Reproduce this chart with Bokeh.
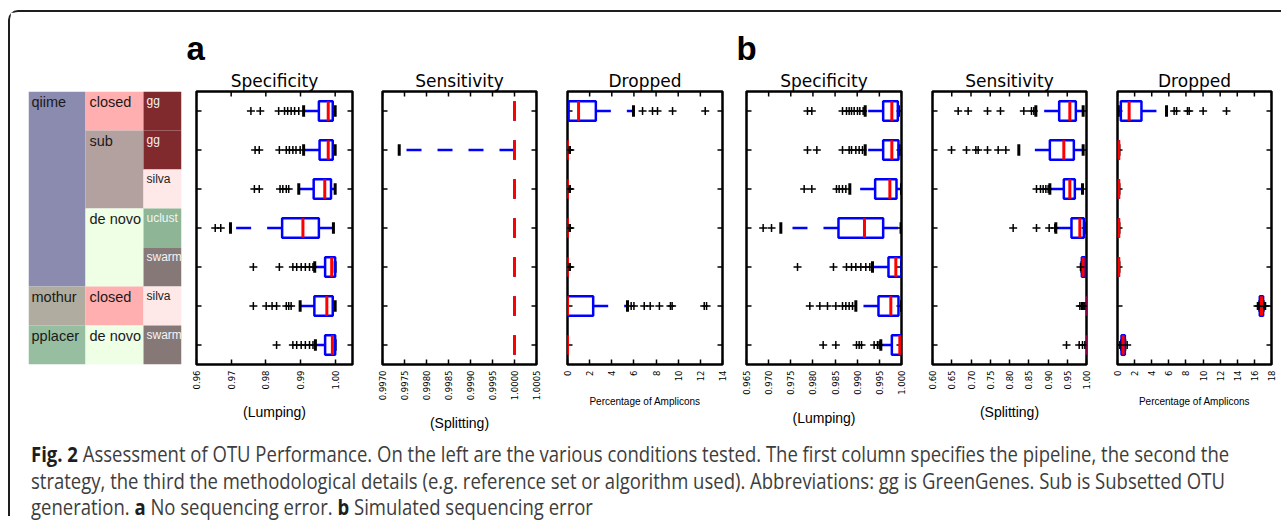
import math
from bokeh.plotting import figure
from bokeh.models import (Range1d, FixedTicker, LinearAxis, PrintfTickFormatter,
                          Title, Div, ColumnDataSource)
from bokeh.layouts import row, column
from bokeh.embed import file_html
from bokeh.resources import INLINE
from bokeh.core.properties import value

# ---------------------------------------------------------------- data
ROWS = [1, 2, 3, 4, 5, 6, 7]

pipelines = ["qiime", "mothur", "pplacer"]
pipeline_span = [5, 1, 1]
strategies = ["closed", "sub", "de novo", "closed", "de novo"]
strategy_span = [1, 2, 2, 1, 1]
details = ["gg", "gg", "silva", "uclust", "swarm", "silva", "swarm"]

# (a) Specificity
spec_a_ticks = [0.96, 0.97, 0.98, 0.99, 1.00]
spec_a_q1 = [0.9953, 0.9955, 0.9938, 0.9847, 0.9971, 0.9940, 0.9971]
spec_a_med = [0.9980, 0.9980, 0.9970, 0.9907, 0.9990, 0.9976, 0.9992]
spec_a_q3 = [0.9993, 0.9993, 0.9988, 0.9953, 1.0000, 0.9993, 1.0000]
spec_a_lo = [0.9909, 0.9909, 0.9895, 0.9698, 0.9941, 0.9899, 0.9943]
spec_a_hi = [1.0000, 1.0000, 1.0000, 0.9995, 1.0000, 1.0000, 1.0000]
spec_a_fliers = [
    [0.9757, 0.9784, 0.9837, 0.9854, 0.9863, 0.9873, 0.9883, 0.9895],
    [0.9769, 0.9781, 0.9839, 0.9859, 0.9868, 0.9878, 0.9887, 0.9899],
    [0.9767, 0.9781, 0.9841, 0.9849, 0.9859, 0.9866],
    [0.9654, 0.9670],
    [0.9764, 0.9839, 0.9878, 0.9889, 0.9902, 0.9914, 0.9926, 0.9936],
    [0.9764, 0.9801, 0.9818, 0.9831, 0.9859, 0.9866, 0.9873],
    [0.9831, 0.9878, 0.9889, 0.9902, 0.9914, 0.9926, 0.9936],
]

# (a) Sensitivity
sens_a_ticks = [0.9970, 0.9975, 0.9980, 0.9985, 0.9990, 0.9995, 1.0000, 1.0005]
sens_a_q1 = [1.0, 1.0, 1.0, 1.0, 1.0, 1.0, 1.0]
sens_a_med = [1.0, 1.0, 1.0, 1.0, 1.0, 1.0, 1.0]
sens_a_q3 = [1.0, 1.0, 1.0, 1.0, 1.0, 1.0, 1.0]
sens_a_lo = [1.0, 0.99738, 1.0, 1.0, 1.0, 1.0, 1.0]
sens_a_hi = [1.0, 1.0, 1.0, 1.0, 1.0, 1.0, 1.0]
sens_a_fliers = [[], [], [], [], [], [], []]

# (a) Dropped
drop_a_ticks = [0, 2, 4, 6, 8, 10, 12, 14]
drop_a_q1 = [0.1, 0.0, 0.0, 0.0, 0.0, 0.0, 0.0]
drop_a_med = [1.0, 0.0, 0.0, 0.0, 0.0, 0.0, 0.0]
drop_a_q3 = [2.56, 0.0, 0.0, 0.0, 0.0, 2.32, 0.0]
drop_a_lo = [0.0, 0.0, 0.0, 0.0, 0.0, 0.0, 0.0]
drop_a_hi = [5.96, 0.0, 0.0, 0.0, 0.0, 5.42, 0.0]
drop_a_fliers = [
    [6.78, 7.68, 8.13, 9.49, 12.44],
    [0.15, 0.25],
    [0.15, 0.25],
    [0.15, 0.25],
    [0.15, 0.25],
    [5.75, 6.0, 6.93, 7.47, 8.3, 9.3, 9.45, 12.35, 12.56],
    [],
]

# (b) Specificity
spec_b_ticks = [0.965, 0.970, 0.975, 0.980, 0.985, 0.990, 0.995, 1.000]
spec_b_q1 = [0.99586, 0.99586, 0.99405, 0.98577, 0.99706, 0.99480, 0.99782]
spec_b_med = [0.99782, 0.99782, 0.99737, 0.99164, 0.99872, 0.99759, 0.99962]
spec_b_q3 = [0.99917, 0.99932, 0.99887, 0.99586, 1.0, 0.99932, 1.0]
spec_b_lo = [0.99180, 0.99180, 0.98833, 0.97275, 0.99345, 0.98969, 0.99533]
spec_b_hi = [0.99932, 0.99947, 1.0, 0.9999, 1.0, 1.0, 1.0]
spec_b_fliers = [
    [0.97877, 0.97975, 0.98668, 0.98758, 0.98818, 0.98871, 0.98931, 0.99006, 0.99059, 0.99134],
    [0.97877, 0.98088, 0.98668, 0.98818, 0.98871, 0.98969, 0.99044, 0.99119],
    [0.97802, 0.97975, 0.98532, 0.98592, 0.98668, 0.98743],
    [0.96876, 0.97065],
    [0.97652, 0.98464, 0.98758, 0.98871, 0.98969, 0.99082, 0.99194, 0.99285],
    [0.97930, 0.98156, 0.98329, 0.98517, 0.98668, 0.98743, 0.98818, 0.98894],
    [0.98231, 0.98517, 0.98984, 0.99044, 0.99097, 0.99382, 0.99458, 0.99495],
]

# (b) Sensitivity
sens_b_ticks = [0.60, 0.65, 0.70, 0.75, 0.80, 0.85, 0.90, 0.95, 1.00]
sens_b_q1 = [0.9290, 0.9048, 0.9411, 0.9610, 0.9879, 1.0, 1.0]
sens_b_med = [0.9567, 0.9411, 0.9567, 0.9827, 0.9913, 1.0, 1.0]
sens_b_q3 = [0.9723, 0.9671, 0.9697, 0.9931, 0.9965, 1.0, 1.0]
sens_b_lo = [0.8684, 0.8242, 0.9048, 0.9203, 0.9879, 1.0, 1.0]
sens_b_hi = [0.9913, 0.9913, 0.9896, 0.9974, 0.9965, 1.0, 1.0]
sens_b_fliers = [
    [0.6667, 0.6926, 0.7429, 0.7766, 0.8372, 0.8571, 0.8632],
    [0.6494, 0.6883, 0.7126, 0.7186, 0.7429, 0.7706, 0.7905],
    [0.8701, 0.8805, 0.8874, 0.8944, 0.9004],
    [0.8095, 0.8701, 0.9030, 0.9177],
    [0.9844],
    [0.9827, 0.9870, 0.9900, 0.9930, 0.9957],
    [0.9481, 0.9810, 0.9896, 0.9957],
]

# (b) Dropped
drop_b_ticks = [0, 2, 4, 6, 8, 10, 12, 14, 16, 18]
drop_b_q1 = [0.39, 0.15, 0.15, 0.15, 0.15, 16.63, 0.47]
drop_b_med = [1.36, 0.15, 0.15, 0.15, 0.15, 16.83, 0.66]
drop_b_q3 = [2.80, 0.15, 0.15, 0.15, 0.15, 17.02, 0.86]
drop_b_lo = [0.10, 0.15, 0.15, 0.15, 0.15, 16.63, 0.47]
drop_b_hi = [5.73, 0.15, 0.15, 0.15, 0.15, 17.02, 0.86]
drop_b_fliers = [
    [6.62, 6.90, 8.18, 8.38, 10.01, 12.74],
    [], [], [], [],
    [16.36, 16.52, 17.14, 17.30],
    [0.27, 1.13],
]

caption_bold = "Fig. 2"
caption_line1 = (" Assessment of OTU Performance. On the left are the various conditions tested. "
                 "The first column specifies the pipeline, the second the")
caption_line2 = ("strategy, the third the methodological details (e.g. reference set or algorithm "
                 "used). Abbreviations: gg is GreenGenes. Sub is Subsetted OTU")

# ---------------------------------------------------------------- style
BLUE = "#0000ff"
RED = "#ff0000"
FIG_H = 424
FRAME_TOP = 76
FRAME_H = 279

pipeline_colors = ["#8b8bb0", "#b0ada0", "#97bea0"]
strategy_colors = {"closed": "#ffafaf", "sub": "#b3a19f", "de novo": "#eeffe5"}
detail_colors = {"gg": "#802a2e", "silva": "#ffe8e8", "uclust": "#8db596", "swarm": "#877878"}
detail_text_colors = {"gg": "#f4f4f4", "silva": "#222222", "uclust": "#f4f4f4", "swarm": "#f4f4f4"}


def make_panel(title, xr, ticks, fmt, xlabel, xlabel_size, q1, med, q3, lo, hi, fliers,
               width, bl, br, letter=None):
    p = figure(width=width, height=FIG_H, x_range=Range1d(*xr), y_range=Range1d(7.5, 0.5),
               x_axis_type=None, y_axis_type=None, output_backend="svg", toolbar_location=None,
               min_border_left=bl, min_border_right=br, min_border_top=FRAME_TOP,
               min_border_bottom=FIG_H - FRAME_TOP - FRAME_H)
    p.outline_line_color = "black"
    p.outline_line_width = 2.5
    p.outline_line_alpha = 1.0
    p.background_fill_color = "white"
    p.border_fill_color = "white"

    xb = LinearAxis(ticker=FixedTicker(ticks=ticks), axis_line_color=None,
                    major_tick_in=5, major_tick_out=0, major_tick_line_color="black",
                    major_tick_line_width=1.5, minor_tick_line_color=None)
    xb.formatter = PrintfTickFormatter(format=fmt)
    xb.major_label_orientation = math.pi / 2
    xb.major_label_text_font = "DejaVu Sans"
    xb.major_label_text_font_size = "8.5px"
    xb.major_label_text_color = "black"
    xb.major_label_standoff = 6
    xb.axis_label = xlabel
    xb.axis_label_text_font = "Liberation Sans"
    xb.axis_label_text_font_size = xlabel_size
    xb.axis_label_text_font_style = "normal"
    xb.axis_label_text_color = "black"
    xb.axis_label_standoff = 12
    p.add_layout(xb, "below")

    p.add_layout(Title(text=title, align="center", text_font="DejaVu Sans",
                       text_font_size="17px", text_font_style="normal",
                       text_color="black", standoff=1), "above")
    if letter:
        p.add_layout(Title(text=letter, align="left", offset=-10, text_font="Liberation Sans",
                           text_font_size="33px", text_font_style="bold",
                           text_color="black", standoff=4), "above")

    # inward ticks on the other three sides of the frame
    dy = 7.0 / FRAME_H
    dx = (xr[1] - xr[0]) / (width - bl - br)
    tick = dict(line_color="black", line_width=1.5)
    p.segment(x0=ticks, y0=[0.5] * len(ticks), x1=ticks, y1=[0.5 + 5 * dy] * len(ticks), **tick)
    p.segment(x0=[xr[0]] * 7, y0=ROWS, x1=[xr[0] + 5 * dx] * 7, y1=ROWS, **tick)
    p.segment(x0=[xr[1] - 5 * dx] * 7, y0=ROWS, x1=[xr[1]] * 7, y1=ROWS, **tick)

    src = ColumnDataSource(dict(
        y=ROWS, q1=q1, med=med, q3=q3, lo=lo, hi=hi,
        yb0=[r - 0.25 for r in ROWS], yb1=[r + 0.25 for r in ROWS],
        yc0=[r - 0.15 for r in ROWS], yc1=[r + 0.15 for r in ROWS]))
    p.segment(x0="q1", y0="y", x1="lo", y1="y", source=src, line_color=BLUE,
              line_width=2.5, line_dash="15 16")
    p.segment(x0="q3", y0="y", x1="hi", y1="y", source=src, line_color=BLUE,
              line_width=2.5, line_dash="15 16")
    p.segment(x0="lo", y0="yc0", x1="lo", y1="yc1", source=src, line_color="black", line_width=3)
    p.segment(x0="hi", y0="yc0", x1="hi", y1="yc1", source=src, line_color="black", line_width=3)
    p.quad(left="q1", right="q3", top="yb0", bottom="yb1", source=src, fill_color=None,
           line_color=BLUE, line_width=2.5)
    p.segment(x0="med", y0="yb0", x1="med", y1="yb1", source=src, line_color=RED, line_width=3)

    fx, fy = [], []
    for r, lst in zip(ROWS, fliers):
        for v in lst:
            fx.append(v)
            fy.append(r)
    p.scatter(fx, fy, marker="cross", size=8, line_color="black", line_width=1.5)
    return p


# ---------------------------------------------------------------- conditions table
T_W, T_BL, T_BR, T_TOP, T_H = 174, 18, 3, 79, 273
COL_X = [0, 57, 115, 153]
t = figure(width=T_W, height=FIG_H, x_range=Range1d(0, 153), y_range=Range1d(7, 0),
           x_axis_type=None, y_axis_type=None, output_backend="svg", toolbar_location=None,
           min_border_left=T_BL, min_border_right=T_BR, min_border_top=T_TOP,
           min_border_bottom=FIG_H - T_TOP - T_H)
t.outline_line_color = None
t.background_fill_color = "white"
t.border_fill_color = "white"
ty = 7.0 / T_H


def blocks(spans):
    tops, bots, acc = [], [], 0
    for s in spans:
        tops.append(acc)
        acc += s
        bots.append(acc)
    return tops, bots


pt, pb = blocks(pipeline_span)
t.quad(left=COL_X[0], right=COL_X[1], top=pt, bottom=pb, fill_color=pipeline_colors, line_color=None)
t.text(x=[COL_X[0] + 3] * len(pipelines), y=[v + 2 * ty for v in pt], text=pipelines,
       text_font=value("Liberation Sans"), text_font_size="14.5px", text_color="#1a1a1a",
       text_baseline="top", text_align="left")

st, sb = blocks(strategy_span)
t.quad(left=COL_X[1], right=COL_X[2], top=st, bottom=sb,
       fill_color=[strategy_colors[s] for s in strategies], line_color=None)
t.text(x=[COL_X[1] + 4] * len(strategies), y=[v + 2 * ty for v in st], text=strategies,
       text_font=value("Liberation Sans"), text_font_size="14.5px", text_color="#1a1a1a",
       text_baseline="top", text_align="left")

dt, db = blocks([1] * len(details))
t.quad(left=COL_X[2], right=COL_X[3], top=dt, bottom=db,
       fill_color=[detail_colors[d] for d in details], line_color=None)
t.text(x=[COL_X[2] + 3] * len(details), y=[v + 2 * ty for v in dt], text=details,
       text_font=value("Liberation Sans"), text_font_size="12px",
       text_color=[detail_text_colors[d] for d in details],
       text_baseline="top", text_align="left")

# ---------------------------------------------------------------- panels
p1 = make_panel("Specificity", (0.96, 1.005), spec_a_ticks, "%.2f", "(Lumping)", "14px",
                spec_a_q1, spec_a_med, spec_a_q3, spec_a_lo, spec_a_hi, spec_a_fliers,
                183, 12, 15, letter="a")
p2 = make_panel("Sensitivity", (0.9970, 1.0005), sens_a_ticks, "%.4f", "(Splitting)", "14px",
                sens_a_q1, sens_a_med, sens_a_q3, sens_a_lo, sens_a_hi, sens_a_fliers,
                185, 15, 16)
p3 = make_panel("Dropped", (0, 14), drop_a_ticks, "%d", "Percentage of Amplicons", "10px",
                drop_a_q1, drop_a_med, drop_a_q3, drop_a_lo, drop_a_hi, drop_a_fliers,
                180, 15, 10)
p4 = make_panel("Specificity", (0.965, 1.0), spec_b_ticks, "%.3f", "(Lumping)", "14px",
                spec_b_q1, spec_b_med, spec_b_q3, spec_b_lo, spec_b_hi, spec_b_fliers,
                185, 14, 16, letter="b")
p5 = make_panel("Sensitivity", (0.60, 1.0), sens_b_ticks, "%.2f", "(Splitting)", "14px",
                sens_b_q1, sens_b_med, sens_b_q3, sens_b_lo, sens_b_hi, sens_b_fliers,
                185, 15, 16)
p6 = make_panel("Dropped", (0, 18), drop_b_ticks, "%d", "Percentage of Amplicons", "10px",
                drop_b_q1, drop_b_med, drop_b_q3, drop_b_lo, drop_b_hi, drop_b_fliers,
                175, 15, 6)

# ---------------------------------------------------------------- caption
B = '<b style="color:#1e1e1e">'
html = (
    '<div style="padding-left:16px;font-family:\'Open Sans\';font-size:21px;'
    'line-height:26.5px;color:#3d3d3d;white-space:nowrap;">'
    '<div style="transform:scaleX(0.881);transform-origin:0 0;">'
    + B + caption_bold + '</b>' + caption_line1 + '<br>'
    + caption_line2 + '<br>'
    'generation. ' + B + 'a</b> No sequencing error. ' + B + 'b</b> Simulated sequencing error'
    '</div></div>'
)
caption = Div(text=html, width=1262, height=70)

top = row(t, p1, p2, p3, p4, p5, p6)
layout = column(top, caption, styles={
    "border-left": "2px solid #1e1e1e", "border-top": "2px solid #1e1e1e",
    "border-top-left-radius": "10px", "margin-top": "10px", "margin-left": "8px"})

open("out.html", "w").write(file_html(layout, INLINE))
